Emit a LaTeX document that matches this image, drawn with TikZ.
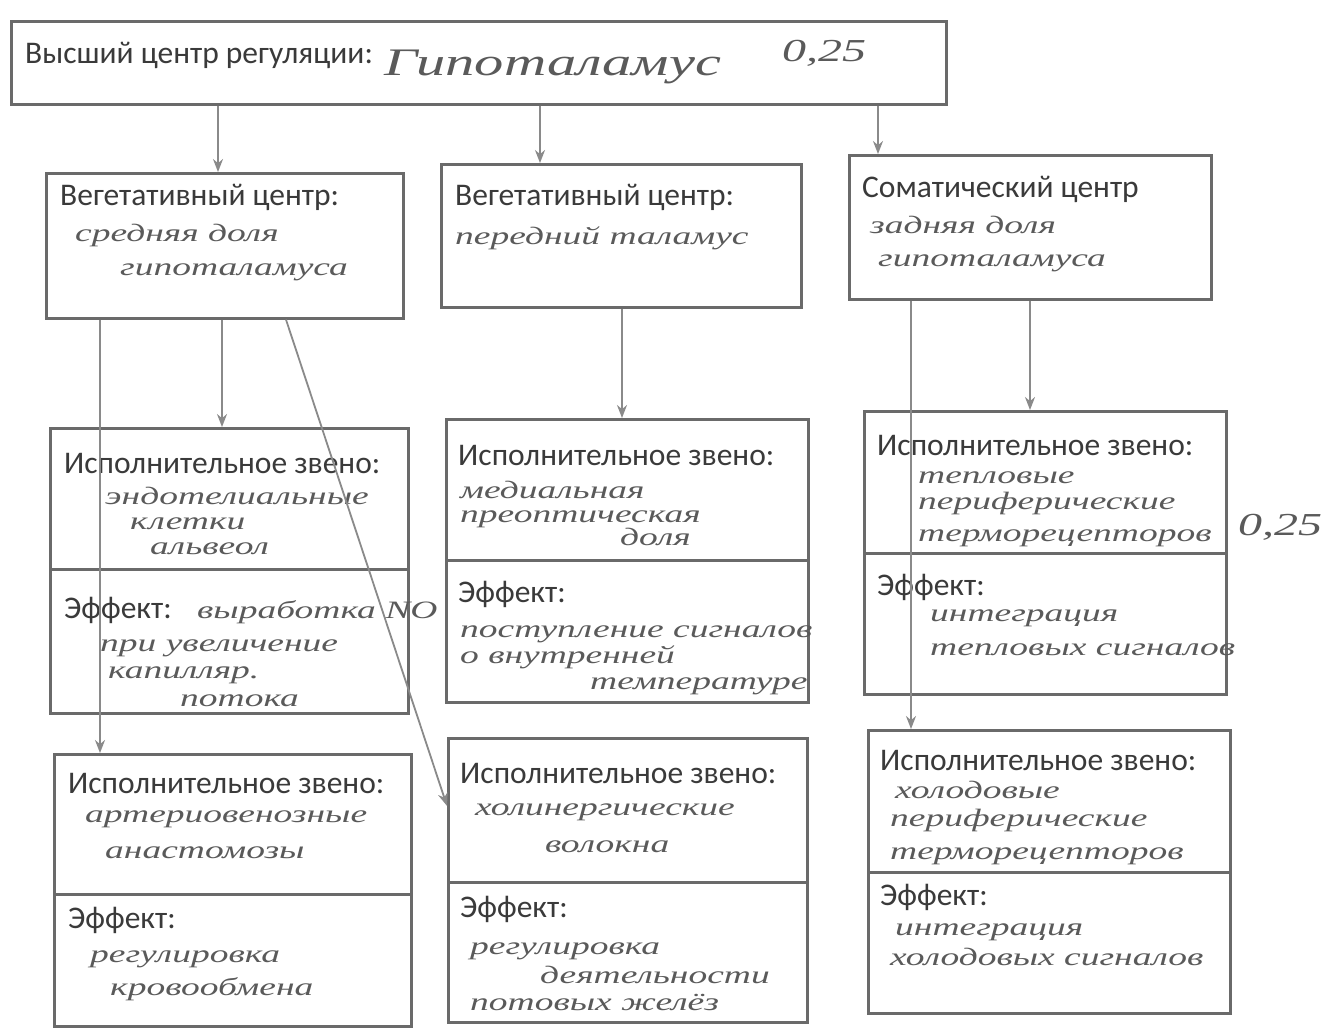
\documentclass[tikz,border=0pt]{standalone}
\usepackage{fontspec}
\setmainfont{Carlito}
\newfontfamily\hand[FakeStretch=1.5]{Liberation Serif}
\usetikzlibrary{arrows.meta,calc}
\definecolor{boxgray}{HTML}{6A6A6A}
\definecolor{lngray}{HTML}{8A8A8A}
\definecolor{ink}{HTML}{3A3A3A}
\definecolor{pen}{HTML}{5A5A5A}
\begin{document}
\begin{tikzpicture}[x=1pt,y=-1pt,
  box/.style={draw=boxgray,line width=2.6pt,anchor=north west,inner sep=0pt},
  conn/.style={draw=lngray,line width=1.8pt,-{Stealth[length=13pt,width=10pt]}},
  prt/.style={font=\fontsize{31.5}{36}\selectfont,text=ink,anchor=base west,inner sep=0pt},
  hw/.style={font=\hand\itshape\fontsize{25}{30}\selectfont,text=pen,anchor=base west,inner sep=0pt},
  hwmid/.style={font=\hand\itshape\fontsize{32}{36}\selectfont,text=pen,anchor=base west,inner sep=0pt},
  hwbig/.style={font=\hand\itshape\fontsize{39}{44}\selectfont,text=pen,anchor=base west,inner sep=0pt}]
\fill[white] (0,0) rectangle (1323,1030);
\useasboundingbox (0,0) rectangle (1323,1030);
% boxes
\node[box,minimum width=935pt,minimum height=83pt] (top) at (10,20) {};
\node[box,minimum width=357pt,minimum height=145pt] (a) at (45,172) {};
\node[box,minimum width=360pt,minimum height=143pt] (b) at (440,163) {};
\node[box,minimum width=362pt,minimum height=144pt] (c) at (848,154) {};
\node[box,minimum width=358pt,minimum height=141pt] (l2e) at (49,427) {};
\node[box,minimum width=358pt,minimum height=144pt] (l2f) at (49,568) {};
\node[box,minimum width=362pt,minimum height=141pt] (m2e) at (445,418) {};
\node[box,minimum width=362pt,minimum height=142pt] (m2f) at (445,559) {};
\node[box,minimum width=362pt,minimum height=142pt] (r2e) at (863,410) {};
\node[box,minimum width=362pt,minimum height=141pt] (r2f) at (863,552) {};
\node[box,minimum width=357pt,minimum height=140pt] (l3e) at (53,753) {};
\node[box,minimum width=357pt,minimum height=132pt] (l3f) at (53,893) {};
\node[box,minimum width=359pt,minimum height=144pt] (m3e) at (447,737) {};
\node[box,minimum width=359pt,minimum height=140pt] (m3f) at (447,881) {};
\node[box,minimum width=362pt,minimum height=142pt] (r3e) at (867,729) {};
\node[box,minimum width=362pt,minimum height=141pt] (r3f) at (867,871) {};
% top texts
\node[prt] (t0) at (25,64) {Высший центр регуляции:};
\node[hwbig] (t1) at (384,76) {Гипоталамус};
\node[hwmid] (t2) at (782,62) {0,25};
% row 1
\node[prt] (ta) at (60,205) {Вегетативный центр:};
\node[hw] (ta1) at (75,241) {средняя доля};
\node[hw] (ta2) at (120,275) {гипоталамуса};
\node[prt] (tb) at (455,205) {Вегетативный центр:};
\node[hw] (tb1) at (455,244) {передний таламус};
\node[prt] (tc) at (862,197) {Соматический центр};
\node[hw] (tc1) at (870,233) {задняя доля};
\node[hw] (tc2) at (878,266) {гипоталамуса};
% row 2 left
\node[prt] (l2a) at (64,473) {Исполнительное звено:};
\node[hw] (l2b) at (105,504) {эндотелиальные};
\node[hw] (l2c) at (130,529) {клетки};
\node[hw] (l2d) at (150,554) {альвеол};
\node[prt] (l2g) at (64,618) {Эффект:};
\node[hw] (l2h) at (197,618) {выработка NO};
\node[hw] (l2i) at (100,651) {при увеличение};
\node[hw] (l2j) at (108,678) {капилляр.};
\node[hw] (l2k) at (180,706) {потока};
% row 2 mid
\node[prt] (m2a) at (458,465) {Исполнительное звено:};
\node[hw] (m2b) at (460,498) {медиальная};
\node[hw] (m2c) at (460,522) {преоптическая};
\node[hw] (m2d) at (620,545) {доля};
\node[prt] (m2g) at (458,602) {Эффект:};
\node[hw] (m2h) at (460,637) {поступление сигналов};
\node[hw] (m2i) at (460,663) {о внутренней};
\node[hw] (m2j) at (590,689) {температуре};
% row 2 right
\node[prt] (r2a) at (877,455) {Исполнительное звено:};
\node[hw] (r2b) at (918,483) {тепловые};
\node[hw] (r2c) at (918,509) {периферические};
\node[hw] (r2d) at (918,541) {терморецепторов};
\node[hwmid] (r2z) at (1238,535) {0,25};
\node[prt] (r2g) at (877,595) {Эффект:};
\node[hw] (r2h) at (930,621) {интеграция};
\node[hw] (r2i) at (930,655) {тепловых сигналов};
% row 3 left
\node[prt] (l3a) at (68,793) {Исполнительное звено:};
\node[hw] (l3b) at (85,822) {артериовенозные};
\node[hw] (l3c) at (105,858) {анастомозы};
\node[prt] (l3g) at (68,928) {Эффект:};
\node[hw] (l3h) at (90,962) {регулировка};
\node[hw] (l3i) at (110,995) {кровообмена};
% row 3 mid
\node[prt] (m3a) at (460,783) {Исполнительное звено:};
\node[hw] (m3b) at (475,815) {холинергические};
\node[hw] (m3c) at (545,852) {волокна};
\node[prt] (m3g) at (460,917) {Эффект:};
\node[hw] (m3h) at (470,954) {регулировка};
\node[hw] (m3i) at (540,983) {деятельности};
\node[hw] (m3j) at (470,1010) {потовых желёз};
% row 3 right
\node[prt] (r3a) at (880,770) {Исполнительное звено:};
\node[hw] (r3b) at (895,798) {холодовые};
\node[hw] (r3c) at (890,826) {периферические};
\node[hw] (r3d) at (890,859) {терморецепторов};
\node[prt] (r3g) at (880,905) {Эффект:};
\node[hw] (r3h) at (895,935) {интеграция};
\node[hw] (r3i) at (890,965) {холодовых сигналов};
% connector x positions
\coordinate (x1) at (218,0);
\coordinate (x2) at (540,0);
\coordinate (x3) at (878,0);
\coordinate (x4) at (222,0);
\coordinate (x5) at (100,0);
\coordinate (x6) at (286,0);
\coordinate (x7) at (622,0);
\coordinate (x8) at (1030,0);
\coordinate (x9) at (911,0);
\draw[conn] (top.south -| x1) -- (a.north -| x1);
\draw[conn] (top.south -| x2) -- (b.north -| x2);
\draw[conn] (top.south -| x3) -- (c.north -| x3);
\draw[conn] (a.south -| x4) -- (l2e.north -| x4);
\draw[conn] (a.south -| x5) -- (l3e.north -| x5);
\draw[conn] (a.south -| x6) -- ($(m3e.north west)!0.47!(m3e.south west)$);
\draw[conn] (b.south -| x7) -- (m2e.north -| x7);
\draw[conn] (c.south -| x8) -- (r2e.north -| x8);
\draw[conn] (c.south -| x9) -- (r3e.north -| x9);
\end{tikzpicture}
\end{document}
